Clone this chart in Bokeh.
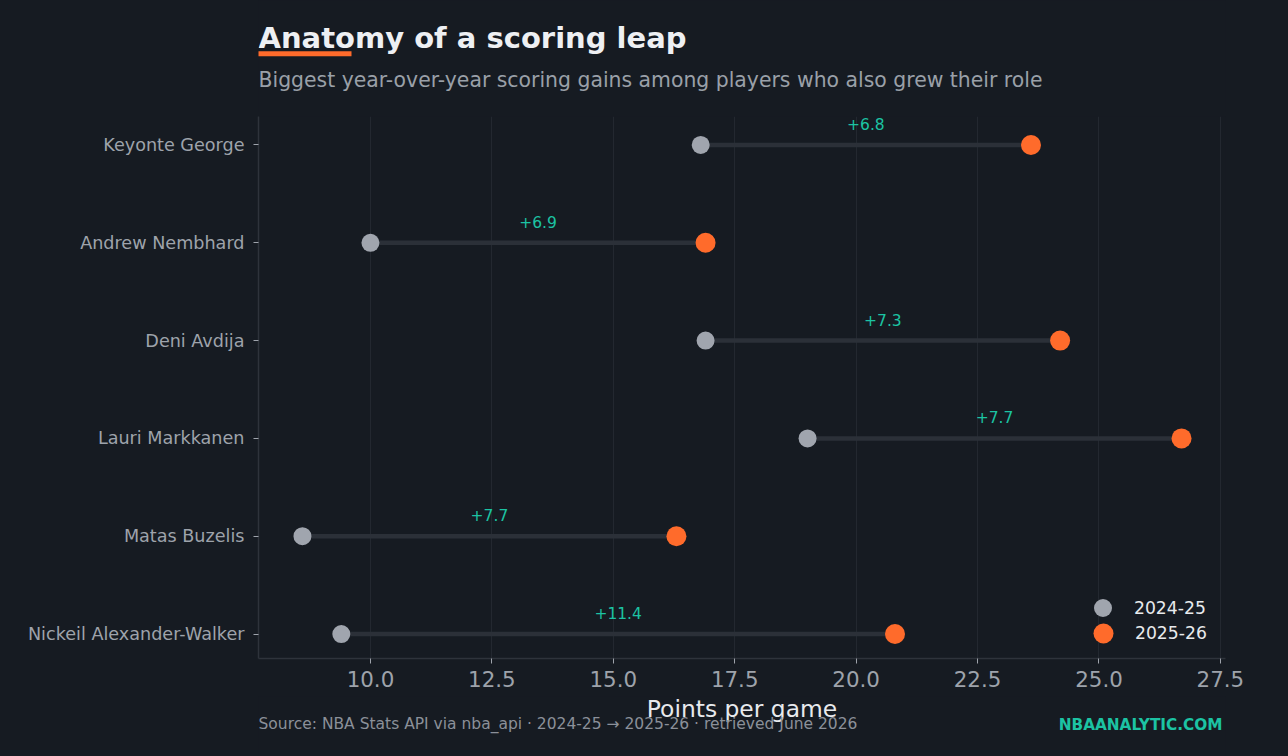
from bokeh.plotting import figure
from bokeh.layouts import column
from bokeh.models import (Range1d, FixedTicker, Label, BoxAnnotation, Legend,
                          LegendItem, ColumnDataSource, NumeralTickFormatter)
from bokeh.core.properties import value
from bokeh.embed import file_html
from bokeh.resources import INLINE

# ---- data ----
players = ["Nickeil Alexander-Walker", "Matas Buzelis", "Lauri Markkanen",
           "Deni Avdija", "Andrew Nembhard", "Keyonte George"]
ppg_2425 = [9.4, 8.6, 19.0, 16.9, 10.0, 16.8]
ppg_2526 = [20.8, 16.3, 26.7, 24.2, 16.9, 23.6]
x_ticks = [10.0, 12.5, 15.0, 17.5, 20.0, 22.5, 25.0, 27.5]
season_labels = ["2024-25", "2025-26"]

title_text = "Anatomy of a scoring leap"
subtitle_text = "Biggest year-over-year scoring gains among players who also grew their role"
source_text = "Source: NBA Stats API via nba_api \u00b7 2024-25 \u2192 2025-26 \u00b7 retrieved June 2026"
brand_text = "NBAANALYTIC.COM"
x_label = "Points per game"

# ---- style ----
BG = "#161b22"
GRAY_DOT = "#a0a5ae"
ORANGE = "#ff6b2b"
LINK = "#2b3038"
GRID = "#232830"
SPINE = "#2e333b"
TEAL = "#1cc3a3"
TITLE_C = "#eef0f3"
SUB_C = "#9aa0a8"
TICK_C = "#9ea3ab"
FONT = "DejaVu Sans"
W = 1288
LEFT, RIGHT = 258, 1225          # plot frame edges (page pixels)
HEAD_H = 112
MAIN_TOP_BORDER = 4
FRAME_H = 542
MAIN_BOTTOM_BORDER = 38
MAIN_H = MAIN_TOP_BORDER + FRAME_H + MAIN_BOTTOM_BORDER
FOOT_H = 756 - HEAD_H - MAIN_H
TOP_EXTRA = 0.041                # a little headroom for the top gain label

ys = list(range(len(players)))
gains = ["+%.1f" % (b - a) for a, b in zip(ppg_2425, ppg_2526)]
mids = [(a + b) / 2 for a, b in zip(ppg_2425, ppg_2526)]
src = ColumnDataSource(dict(y=ys, a=ppg_2425, b=ppg_2526, mid=mids, gain=gains))

lo = min(ppg_2425 + ppg_2526)
hi = max(ppg_2425 + ppg_2526)
pad = 0.05 * (hi - lo)


def blank_fig(h, y_bottom, y_top):
    # frame is aligned with the main chart frame; x in page pixels
    f = figure(width=W, height=h, x_range=Range1d(LEFT, RIGHT),
               y_range=Range1d(y_bottom, y_top),
               output_backend="svg", toolbar_location=None, tools="",
               min_border=0, x_axis_location=None, y_axis_location=None,
               background_fill_color=BG, border_fill_color=None,
               outline_line_color=None)
    f.grid.visible = False
    return f


def text_label(x, y, text, size, color, bold=False, align="left"):
    return Label(x=x, y=y, text=text, text_font=FONT, text_font_size=size,
                 text_font_style="bold" if bold else "normal",
                 text_color=color, text_align=align,
                 text_baseline="alphabetic")


# ---- header (page pixel coordinates, y downward) ----
header = blank_fig(HEAD_H, HEAD_H, 0)
header.add_layout(text_label(258, 37.3, title_text, "29px", TITLE_C, bold=True))
header.add_layout(BoxAnnotation(left=255, right=351, top=50.7, bottom=55.7,
                                fill_color=ORANGE, fill_alpha=1,
                                line_color=None, line_alpha=0))
header.add_layout(text_label(258, 79.5, subtitle_text, "20.4px", SUB_C))

# ---- main chart ----
p = figure(width=W, height=MAIN_H,
           x_range=Range1d(lo - pad, hi + pad),
           y_range=Range1d(-0.25, len(players) - 0.75 + TOP_EXTRA),
           output_backend="svg", toolbar_location=None, tools="",
           min_border_left=LEFT, min_border_right=W - RIGHT,
           min_border_top=MAIN_TOP_BORDER, min_border_bottom=MAIN_BOTTOM_BORDER,
           background_fill_color=BG, border_fill_color=None,
           outline_line_color=None)

p.xgrid.grid_line_color = GRID
p.xgrid.grid_line_width = 1
p.ygrid.grid_line_color = None

p.xaxis.ticker = FixedTicker(ticks=x_ticks)
p.xaxis.formatter = NumeralTickFormatter(format="0.0")
p.xaxis.major_label_text_font = FONT
p.xaxis.major_label_text_font_size = "21.4px"
p.xaxis.major_label_text_color = TICK_C
p.xaxis.major_label_standoff = 7

p.yaxis.ticker = FixedTicker(ticks=ys)
p.yaxis.major_label_overrides = {i: n for i, n in zip(ys, players)}
p.yaxis.major_label_text_font = FONT
p.yaxis.major_label_text_font_size = "17.6px"
p.yaxis.major_label_text_color = TICK_C
p.yaxis.major_label_standoff = 9

for ax in (p.xaxis, p.yaxis):
    ax.axis_line_color = SPINE
    ax.axis_line_width = 1.5
    ax.major_tick_line_color = TICK_C
    ax.major_tick_out = 5
    ax.major_tick_in = 0
    ax.minor_tick_line_color = None

p.segment(x0="a", y0="y", x1="b", y1="y", source=src,
          line_color=LINK, line_width=4.5)
r_old = p.scatter(x="a", y="y", source=src, size=18,
                  fill_color=GRAY_DOT, line_color=None)
r_new = p.scatter(x="b", y="y", source=src, size=20,
                  fill_color=ORANGE, line_color=None)

p.text(x="mid", y="y", text="gain", source=src, text_align="center",
       text_baseline="middle", y_offset=-21,
       text_font=value(FONT), text_font_size="15.5px", text_color=TEAL)


def make_legend(label, rend, loc, gsize):
    return Legend(items=[LegendItem(label=label, renderers=[rend])],
                  location=loc, orientation="vertical",
                  glyph_width=gsize, glyph_height=gsize,
                  padding=0, margin=0, label_standoff=int(32 - gsize / 2),
                  background_fill_alpha=0, border_line_alpha=0,
                  border_line_color=None,
                  label_text_font=FONT, label_text_font_size="17.2px",
                  label_text_color="#e8eaed")


p.add_layout(make_legend(season_labels[0], r_old, (822, 28), 45), "center")
p.add_layout(make_legend(season_labels[1], r_new, (820, 0), 50), "center")

# ---- footer (page pixel coordinates, y downward) ----
top_f = 756 - FOOT_H
footer = blank_fig(FOOT_H, 756, top_f)
footer.add_layout(text_label((LEFT + RIGHT) / 2, 708.4, x_label, "23.4px",
                             "#e8eaed", align="center"))
footer.add_layout(text_label(258, 723.3, source_text, "15.5px", "#8b9099"))
footer.add_layout(text_label(1222, 724.3, brand_text, "15.3px", TEAL, bold=True,
                             align="right"))

layout = column(header, p, footer, spacing=0)
html = file_html(layout, INLINE)
html = html.replace("</head>",
                    "<style>html,body{background:%s;margin:0;padding:0;}</style></head>" % BG, 1)
open("out.html", "w").write(html)
